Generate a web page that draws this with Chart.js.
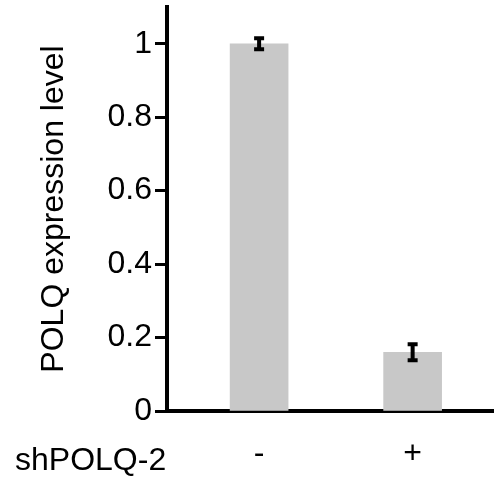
<!DOCTYPE html>
<html>
<head>
<meta charset="utf-8">
<script src="https://cdn.jsdelivr.net/npm/chart.js@4"></script>
<style>body{margin:0;background:#fff}</style>
</head>
<body>
<canvas id="chart" width="494" height="478"></canvas>
<script>
// values
const groups = ['-', '+'];
const expression = [1.0, 0.16];
const errors = [0.015, 0.022];
const yTicks = [0, 0.2, 0.4, 0.6, 0.8, 1];
const rowLabel = 'shPOLQ-2';
const yTitle = 'POLQ expression level';

const FONT = 'Liberation Sans, Arial, sans-serif';
const SIZE = 32;

// error bars drawn on top of the bars
const errorBars = {
    id: 'errorBars',
    afterDatasetsDraw(chart) {
        const {ctx, scales: {x, y}} = chart;
        ctx.save();
        ctx.strokeStyle = '#000';
        ctx.lineWidth = 4;
        expression.forEach((v, i) => {
            const px = x.getPixelForValue(i);
            const top = y.getPixelForValue(v + errors[i]);
            const bot = y.getPixelForValue(v - errors[i]);
            ctx.beginPath();
            ctx.moveTo(px, top); ctx.lineTo(px, bot);
            ctx.moveTo(px - 5, top); ctx.lineTo(px + 5, top);
            ctx.moveTo(px - 5, bot); ctx.lineTo(px + 5, bot);
            ctx.stroke();
        });
        ctx.restore();
    }
};

// row label left of the x tick labels
const rowTitle = {
    id: 'rowTitle',
    afterDraw(chart) {
        const ctx = chart.ctx;
        ctx.save();
        ctx.fillStyle = '#000';
        ctx.font = SIZE + 'px ' + FONT;
        ctx.textAlign = 'left';
        ctx.textBaseline = 'alphabetic';
        ctx.fillText(rowLabel, 15, 470);
        ctx.restore();
    }
};

new Chart(document.getElementById('chart'), {
    type: 'bar',
    data: {
        datasets: [{
            data: expression.map((v, i) => ({x: i, y: v})),
            backgroundColor: '#c8c8c8',
            borderWidth: 0,
            barThickness: 58
        }]
    },
    options: {
        responsive: false,
        animation: false,
        layout: {padding: {left: 0, right: 0, top: 7, bottom: 0}},
        plugins: {legend: {display: false}, tooltip: {enabled: false}},
        scales: {
            x: {
                type: 'linear',
                offset: false,
                min: -0.6,
                max: 1.53,
                afterBuildTicks: s => { s.ticks = groups.map((_, i) => ({value: i})); },
                afterFit: s => { s.height = 67; s.paddingLeft = 0; s.paddingRight = 0; },
                grid: {display: false},
                border: {display: true, color: '#000', width: 4},
                ticks: {
                    color: '#000',
                    font: {family: FONT, size: SIZE},
                    padding: 16,
                    maxRotation: 0,
                    callback: v => groups[v]
                }
            },
            y: {
                min: 0,
                max: 1.1,
                afterBuildTicks: s => { s.ticks = yTicks.map(v => ({value: v})); },
                afterFit: s => { s.width = 167; s.paddingTop = 0; s.paddingBottom = 0; },
                grid: {drawOnChartArea: false, tickLength: 12, tickWidth: 3, color: '#000'},
                border: {display: true, color: '#000', width: 4},
                ticks: {
                    color: '#000',
                    font: {family: FONT, size: SIZE},
                    padding: 3,
                    callback: v => String(v)
                },
                title: {
                    display: true,
                    text: yTitle,
                    color: '#000',
                    font: {family: FONT, size: SIZE},
                    padding: {top: 35, bottom: 0}
                }
            }
        }
    },
    plugins: [errorBars, rowTitle]
});
</script>
</body>
</html>
